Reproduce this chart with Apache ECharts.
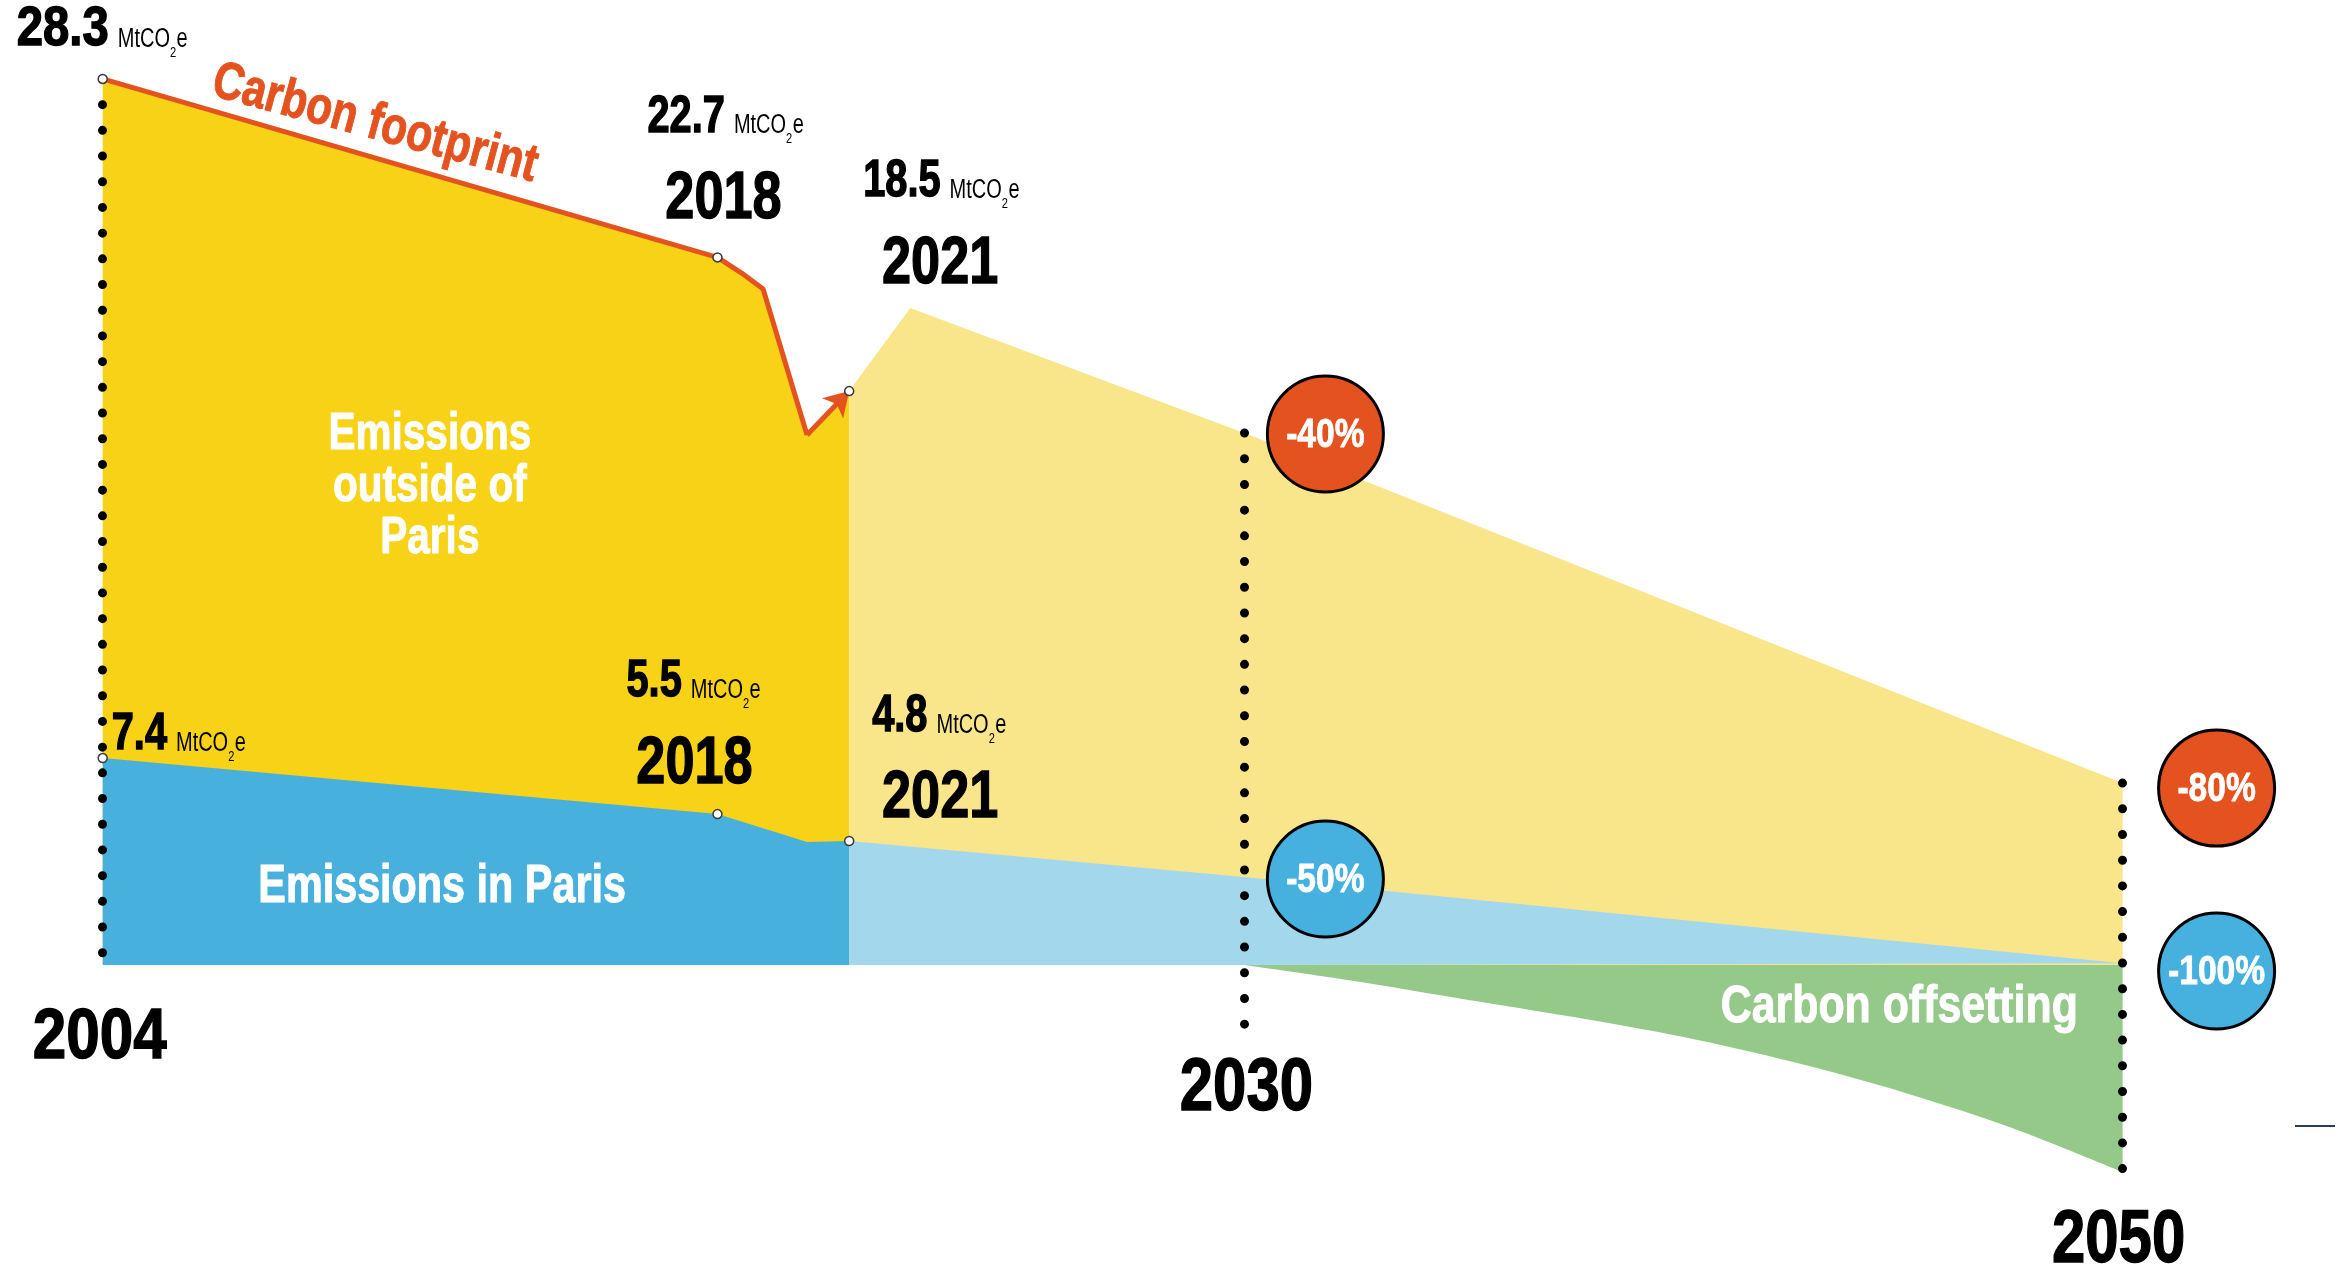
<!DOCTYPE html>
<html><head><meta charset="utf-8">
<script src="https://cdn.jsdelivr.net/npm/echarts@6/dist/echarts.min.js"></script>
<style>html,body{margin:0;padding:0;background:#fff}#c{width:2338px;height:1271px}</style>
</head><body><div id="c"></div>
<script>
// ---------- data (MtCO2e, as drawn in the picture) ----------
const footprintYears  = [2004, 2018, 2018.55, 2019.04, 2020.04, 2021];
const footprintValues = [28.3, 22.6, 22.1, 21.59, 16.93, 18.33];
const parisYears  = [2004, 2018, 2020.04, 2021];
const parisValues = [6.61, 4.82, 3.93, 3.96];
const outsideFutureYears  = [2021, 2022.39, 2030, 2050];
const outsideFutureValues = [18.33, 20.98, 16.99, 5.81];
const parisFutureYears  = [2021, 2030, 2050];
const parisFutureValues = [3.96, 2.81, 0.06];
const offsetYears  = [2030, 2032.5, 2035, 2037.5, 2040, 2042.5, 2045, 2047.5, 2050];
const offsetValues = [0, -0.51, -1.09, -1.66, -2.30, -3.10, -4.06, -5.21, -6.61];
const milestoneYears = [2004, 2030, 2050];
const milestoneTop    = [28.3, 16.99, 5.81];
const milestoneBottom = [-0.2, -2.15, -6.61];
const targetLabels = ['-40%', '-50%', '-80%', '-100%'];
const targetYears  = [2030, 2030, 2050, 2050];
const targetValues = [16.99, 2.81, 5.81, 0];
const footprintLabels = ['28.3', '22.7', '18.5'];
const parisLabels = ['7.4', '5.5', '4.8'];
const pointYearLabels = ['2018', '2021'];
const axisYearLabels = ['2004', '2030', '2050'];
const unitLabel = ['MtCO', '2', 'e'];
const areaLabels = ['Emissions\noutside of\nParis', 'Emissions in Paris', 'Carbon offsetting', 'Carbon footprint'];

// ---------- styles ----------
const FONT = '"Liberation Sans",Arial,sans-serif';
const SX = 0.78;           // horizontal condensing of the heavy display type
const COL = { outside:'#F7D216', outsideFuture:'#FAE68A', paris:'#47B0DD', parisFuture:'#A3D8EC',
  offset:'#94C98A', red:'#E4531F', blue:'#46B1DE' };
const pairs = (xs, ys) => xs.map((x, i) => [x, ys[i]]);
const area = (data, color, z, smooth) => ({ type:'line', data, symbol:'none', silent:true, z, smooth: smooth || false,
  lineStyle:{ width:0 }, areaStyle:{ color, opacity:1 } });

const chart = echarts.init(document.getElementById('c'), null, { renderer:'canvas', width:2338, height:1271 });
const fp = pairs(footprintYears, footprintValues);
const targetColors = [COL.red, COL.blue, COL.red, COL.blue];
const targetOffsets = [[81, 1], [81, 2], [94, 5], [94, 6]];

chart.setOption({
  animation:false,
  backgroundColor:'#fff',
  grid:{ left:102.7, top:25.7, width:2019.9, height:1189.8 },
  xAxis:{ type:'value', min:2004, max:2050, show:false },
  yAxis:{ type:'value', min:-8, max:30, show:false },
  series:[
    area(fp, COL.outside, 1),
    area(pairs(parisYears, parisValues), COL.paris, 2),
    area(pairs(outsideFutureYears, outsideFutureValues), COL.outsideFuture, 1),
    area(pairs(parisFutureYears, parisFutureValues), COL.parisFuture, 2),
    area(pairs(offsetYears, offsetValues), COL.offset, 1, 0.3),
    { // carbon footprint line + arrow
      type:'line', data: fp.slice(0, -1), symbol:'none', silent:true, z:5,
      lineStyle:{ color:COL.red, width:5, join:'round' },
      markLine:{ silent:true, symbol:['none','arrow'], symbolSize:[22, 24], label:{ show:false },
        lineStyle:{ color:COL.red, width:5, type:'solid' },
        data:[[ { coord: fp[fp.length-2] }, { coord: fp[fp.length-1] } ]] }
    },
    { // dotted milestone lines
      type:'line', data:[], z:6, silent:true,
      markLine:{ silent:true, symbol:'none', label:{ show:false },
        lineStyle:{ color:'#000', width:9, type:[0, 25.7], cap:'round' },
        data: milestoneYears.map((y, i) => [ { coord:[y, milestoneTop[i]] }, { coord:[y, milestoneBottom[i]] } ]) }
    },
    { // small point markers
      type:'scatter', z:10, silent:true, symbolSize:9,
      itemStyle:{ color:'#fff', borderColor:'#3a3a3a', borderWidth:1.5, opacity:1 },
      data:[ fp[0], fp[1], fp[fp.length-1], ...pairs(parisYears, parisValues).filter((p, i) => i !== 2) ]
    },
    { // target circles
      type:'scatter', z:12, silent:true, symbolSize:116,
      data: targetYears.map((y, i) => ({ value:[y, targetValues[i]], symbolOffset: targetOffsets[i],
        itemStyle:{ color: targetColors[i], borderColor:'#000', borderWidth:3, opacity:1 } }))
    }
  ]
});

// ---------- annotations placed through the chart's own scales ----------
const px = (x, y) => chart.convertToPixel({ gridIndex:0 }, [x, y]);
const mctx = document.createElement('canvas').getContext('2d');
const fontStr = (w, s) => `${w} ${s}px ${FONT}`;
const measure = (t, w, s, sx) => { mctx.font = fontStr(w, s); return mctx.measureText(t).width * (sx || SX); };
const K = 0.35;
function text(t, x, baseline, size, o = {}) {
  const w = o.weight || 'bold', al = o.align || 'left', fill = o.fill || '#000';
  const heavy = o.weight === 'normal' ? 0 : (o.heavy != null ? o.heavy : 1.4);
  return { type:'text', x, y: o.mid ? baseline : baseline - K * size, rotation: o.rotation || 0,
    scaleX: o.sx || SX, scaleY: 1, silent:true, z:100,
    style:{ text:t, font: fontStr(w, size), fill, stroke: heavy ? fill : null, lineWidth: heavy,
      textAlign: al, align: al, textVerticalAlign:'middle', verticalAlign:'middle', lineHeight: o.lineHeight } };
}
function valueLabel(anchor, dx, dy, val, size, sx) {
  size = size || 51; sx = sx || SX;
  const x0 = anchor[0] + dx, b = anchor[1] + dy;
  const out = [ text(val, x0, b, size, { sx }) ];
  let x = x0 + measure(val, 'bold', size, sx) + 9;
  const us = 0.74;
  out.push(text(unitLabel[0], x, b, 27, { weight:'normal', sx:us })); x += measure(unitLabel[0], 'normal', 27, us);
  out.push(text(unitLabel[1], x, b + 9, 15, { weight:'normal', sx:us })); x += measure(unitLabel[1], 'normal', 15, us) + 0.5;
  out.push(text(unitLabel[2], x, b, 27, { weight:'normal', sx:us }));
  return out;
}
const g = [];
const fpA = [ px(...fp[0]), px(...fp[1]), px(...fp[fp.length-1]) ];
const paA = [ px(parisYears[0], parisValues[0]), px(parisYears[1], parisValues[1]), px(parisYears[3], parisValues[3]) ];
g.push(...valueLabel(fpA[0], -86, -30, footprintLabels[0], 55, 0.86));
g.push(...valueLabel(fpA[1], -70, -122, footprintLabels[1]));
g.push(text(pointYearLabels[0], fpA[1][0] + 6, fpA[1][1] - 34, 67, { align:'center' }));
g.push(...valueLabel(fpA[2], 14, -191, footprintLabels[2]));
g.push(text(pointYearLabels[1], fpA[2][0] + 91, fpA[2][1] - 103, 67, { align:'center' }));
g.push(...valueLabel(paA[0], 9, -5, parisLabels[0]));
g.push(...valueLabel(paA[1], -91, -114, parisLabels[1]));
g.push(text(pointYearLabels[0], paA[1][0] - 23, paA[1][1] - 26, 67, { align:'center' }));
g.push(...valueLabel(paA[2], 23, -106, parisLabels[2]));
g.push(text(pointYearLabels[1], paA[2][0] + 91, paA[2][1] - 19, 67, { align:'center' }));
// axis-like year labels under the dotted lines
const yearDx = [-3, 2, -4], yearDy = [98, 150, 302], yearSize = [70, 74, 74], yearSx = [0.86, 0.81, 0.81];
milestoneYears.forEach((y, i) => { const p = px(y, 0);
  g.push(text(axisYearLabels[i], p[0] + yearDx[i], p[1] + yearDy[i], yearSize[i], { align:'center', sx: yearSx[i] })); });
// target circle labels
targetYears.forEach((y, i) => { const p = px(y, targetValues[i]);
  g.push(text(targetLabels[i], p[0] + targetOffsets[i][0], p[1] + targetOffsets[i][1] + 2, 40,
    { align:'center', fill:'#fff', mid:true, sx:0.84, heavy:0.8 })); });
// area labels
let p = px(2011.45, 15.28);
g.push(text(areaLabels[0], p[0], p[1], 52, { align:'center', fill:'#fff', mid:true, lineHeight:52, heavy:1 }));
p = px(2011.73, 2.49);
g.push(text(areaLabels[1], p[0], p[1], 53, { align:'center', fill:'#fff', mid:true, heavy:1 }));
p = px(2048.98, -1.37);
g.push(text(areaLabels[2], p[0], p[1], 51, { align:'right', fill:'#fff', mid:true, sx:0.84, heavy:1 }));
p = px(2010.2, 26.86);
g.push(text(areaLabels[3], p[0], p[1], 53, { align:'center', fill:COL.red, mid:true, sx:0.8, heavy:1,
  rotation: -15 * Math.PI / 180 }));
// stray rule at right edge of the source figure
g.push({ type:'line', silent:true, z:100, shape:{ x1:2295, y1:1126, x2:2335, y2:1126 }, style:{ stroke:'#2b3a55', lineWidth:2 } });

chart.setOption({ graphic: g });
</script>
</body></html>
